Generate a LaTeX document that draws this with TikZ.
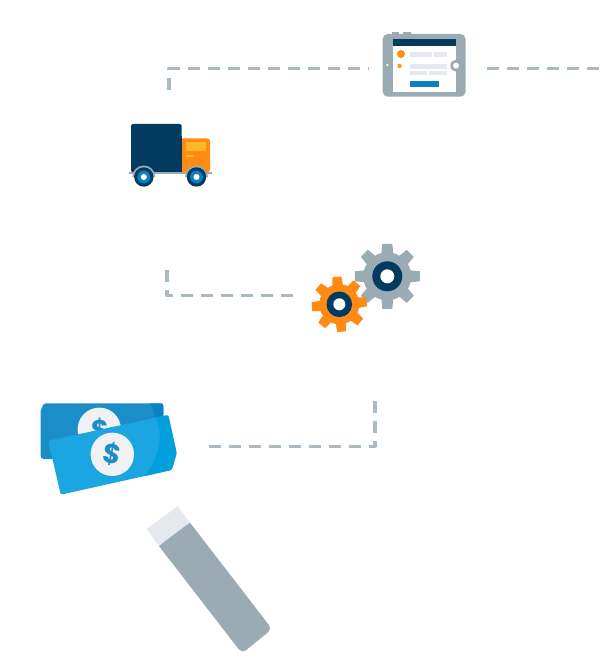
\documentclass[tikz,border=0pt]{standalone}
\usepackage{fontspec}
\setmainfont{Liberation Sans}
\newfontfamily\dollarfont{Poppins}[Scale=1]
\definecolor{dashgray}{HTML}{ABBAC1}
\definecolor{slategray}{HTML}{9AABB3}
\definecolor{navy}{HTML}{023A60}
\definecolor{orangeM}{HTML}{FF8A14}
\definecolor{amber}{HTML}{FDB827}
\definecolor{paleBar}{HTML}{E5E8EE}
\definecolor{btnblue}{HTML}{0A7FC2}
\definecolor{noteback}{HTML}{1B8EC9}
\definecolor{notebackdark}{HTML}{0A82C4}
\definecolor{notefront}{HTML}{1BA6E2}
\definecolor{notefrontdark}{HTML}{029FDD}
\definecolor{coinwhite}{HTML}{F0F1F2}
\tikzset{
  x=1pt,y=-1pt,
  link/.style={draw=dashgray,line width=3.3pt,dash pattern=on 12pt off 8pt,line join=round},
  bar/.style={fill=paleBar},
  dollarsign/.style={text=noteback,inner sep=0pt,font=\dollarfont\bfseries\fontsize{27}{27}\selectfont},
}
\newcommand{\gearshape}[7]{% x,y,outer r,body r,tooth half width,rotation,colour
  \begin{scope}[shift={(#1,#2)},rotate=#6]
    \fill[#7] (0,0) circle[radius=#4];
    \foreach \a in {0,45,...,315}{
      \fill[#7,rotate=\a] (#4-2,-#5-1) -- (#3,-#5) -- (#3,#5) -- (#4-2,#5+1) -- cycle;
    }
  \end{scope}
}
\begin{document}
\begin{tikzpicture}
\useasboundingbox (0,0) rectangle (600,663);
% connectors
\coordinate (l1a) at (169,90);
\coordinate (l1b) at (169,68.5);
\coordinate (l1c) at (368,68.5);
\coordinate (l2a) at (487,68.5);
\coordinate (l2b) at (600,68.5);
\coordinate (l3a) at (167,269.5);
\coordinate (l3b) at (167,295.5);
\coordinate (l3c) at (294,295.5);
\coordinate (l4a) at (209,446.5);
\coordinate (l4b) at (375,446.5);
\coordinate (l4c) at (375,400.5);
\draw[link] (l1a) -- (l1b) -- (l1c);
\draw[link] (l2a) -- (l2b);
\draw[link] (l3a) -- (l3b) -- (l3c);
\draw[link] (l4a) -- (l4b) -- (l4c);
% tablet
\fill[slategray] (391.7,32) rectangle (399.3,36);
\fill[slategray] (403.3,32) rectangle (410.7,36);
\fill[slategray,rounded corners=5pt] (382.7,34) rectangle (465.5,96.7);
\fill[white] (392.7,39.3) rectangle (456,91.7);
\fill[navy] (392.7,39.3) rectangle (456,45.7);
\fill[slategray] (456,65.7) circle[radius=5.7];
\fill[white] (456,65.7) circle[radius=3];
\fill[white] (387.3,65) circle[radius=1.2];
\fill[orangeM] (401,54) circle[radius=4];
\fill[amber] (400.5,52) rectangle (401.5,55);
\fill[orangeM] (399.5,66) circle[radius=2.2];
\fill[amber] (399.5,66) circle[radius=0.8];
\fill[bar] (410,52.3) rectangle (432,56.7);
\fill[bar] (434.3,52.3) rectangle (446.7,56.7);
\fill[bar] (410,64) rectangle (446.7,69);
\fill[bar] (410,70.7) rectangle (427,75);
\fill[bar] (429.3,70.7) rectangle (446.7,75);
\fill[btnblue] (409.7,80.7) rectangle (439.3,86.7);
% truck
\fill[navy,rounded corners=1.5pt] (131,124) rectangle (181.7,172.3);
\fill[orangeM,rounded corners=3pt] (176,138.3) rectangle (210,172.3);
\fill[navy] (176,136) rectangle (181.7,172.3);
\fill[amber] (185.7,141.7) rectangle (206,151);
\fill[amber] (185.7,155) rectangle (194,157.3);
\fill[slategray] (129,171.7) rectangle (211.7,173.9);
\foreach \wx in {143.8,196.5}{
  \fill[slategray] (\wx-11.5,177) arc[start angle=180,end angle=360,radius=11.5] -- cycle;
  \fill[navy] (\wx,177) circle[radius=9.7];
  \fill[btnblue] (\wx,177) circle[radius=6.4];
  \fill[white] (\wx,177) circle[radius=3];
}
% gears
\gearshape{387.3}{276.3}{32.5}{24}{5}{0}{slategray}
\fill[navy] (387.3,276.3) circle[radius=15];
\fill[white] (387.3,276.3) circle[radius=7];
\gearshape{339.3}{304.3}{27.5}{20}{4.4}{5}{orangeM}
\fill[navy] (339.3,304.3) circle[radius=12.8];
\fill[white] (339.3,304.3) circle[radius=6];
% back note
\fill[noteback,rounded corners=1.5pt] (44,403.3) -- (161,403.3) -- (163.3,405) -- (163.3,459) -- (42,459) -- (40.7,457) -- (40.7,410) -- cycle;
\fill[notebackdark] (150,403.3) -- (162,403.3) -- (163.3,405) -- (163.3,425) -- (156,425) .. controls (156,418) and (154,410) .. (150,403.3) -- cycle;
\fill[coinwhite] (99.3,429.3) circle[radius=21.7];
\node[dollarsign] (backdollar) at (100,430) {\$};
% front note
\fill[notefront,rounded corners=1.5pt] (48.3,440.7) -- (168.3,415) -- (176.7,453.3) -- (171.7,470) -- (60.7,494.7) -- cycle;
\begin{scope}
  \clip[rounded corners=1.5pt] (48.3,440.7) -- (168.3,415) -- (176.7,453.3) -- (171.7,470) -- (60.7,494.7) -- cycle;
  \fill[notefrontdark] (155,416) .. controls (165,435) and (158,460) .. (145,476) -- (180,476) -- (180,410) -- cycle;
\end{scope}
\fill[coinwhite] (112.3,454.3) circle[radius=21.7];
\node[dollarsign,rotate=-12] (frontdollar) at (112.3,454.5) {\$};
% pen
\fill[paleBar] (146.7,529) -- (177.7,506) -- (190,522.7) -- (159,546) -- cycle;
\fill[slategray,rounded corners=5pt] (159,546) -- (190,522.7) -- (272,629) -- (242,653.5) -- cycle;
\fill[slategray] (159,546) -- (190,522.7) -- (200,536) -- (169,559) -- cycle;
\end{tikzpicture}
\end{document}
